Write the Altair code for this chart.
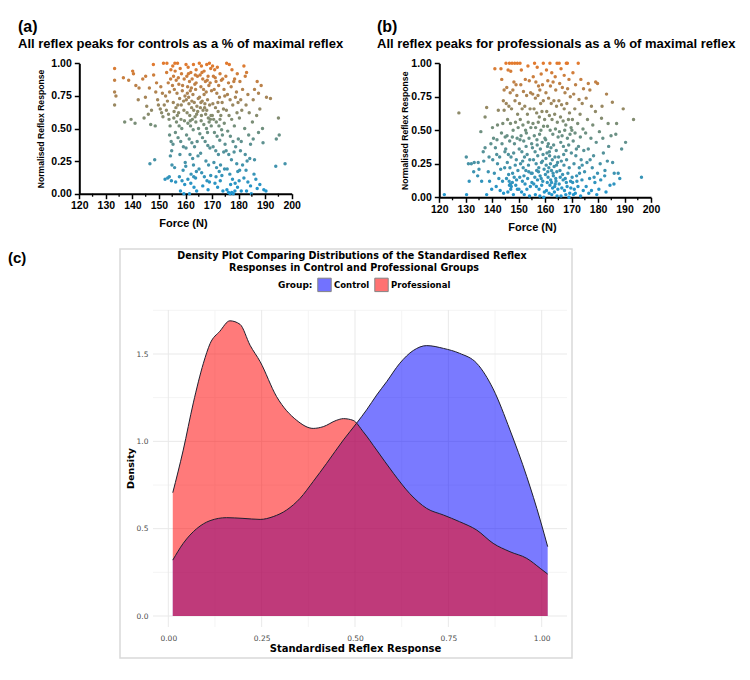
import altair as alt
import pandas as pd

# ---------------------------------------------------------------------------
# Data
# ---------------------------------------------------------------------------

# Controls: (force in N, normalised reflex response)
control_points = [
    (133.3, 0.96), (133.3, 0.87), (133.3, 0.78), (133.8, 0.75), (133.3, 0.68), (136.6, 0.89),
    (138.6, 0.87), (140.1, 0.94), (140.4, 0.92), (137.1, 0.55), (141.0, 0.54), (141.3, 0.83),
    (142.5, 0.81), (143.9, 0.88), (144.9, 0.74), (142.2, 0.72), (145.4, 0.67), (146.0, 0.61),
    (146.4, 0.81), (144.4, 0.58), (146.9, 0.53), (147.9, 0.99), (148.0, 0.91), (149.1, 0.85),
    (148.8, 0.78), (149.5, 0.72), (149.8, 0.68), (148.6, 0.52), (146.6, 0.23), (148.4, 0.26),
    (139.5, 0.57), (145.0, 0.90), (147.2, 0.64),
    (151.7, 1.00), (153.0, 1.00), (150.7, 0.82), (151.0, 0.62), (152.0, 0.68), (152.3, 0.11),
    (153.3, 0.12), (151.5, 0.59), (152.5, 0.75), (153.5, 0.85), (154.0, 0.78), (154.5, 0.95),
    (153.8, 0.57), (154.2, 0.52), (154.6, 0.40), (154.8, 0.33), (154.3, 0.29), (154.9, 0.22),
    (153.9, 0.13), (154.7, 0.10), (152.8, 0.64), (153.2, 0.71), (154.4, 0.88), (150.5, 0.65),
    (154.0, 0.45), (152.9, 0.93), (151.3, 0.77), (153.6, 0.61),
    (155.2, 0.98), (156.0, 1.00), (157.0, 1.00), (158.0, 0.96), (155.5, 0.90), (156.5, 0.87),
    (157.5, 0.84), (158.5, 0.92), (159.5, 0.88), (155.8, 0.80), (156.8, 0.77), (157.8, 0.73),
    (158.8, 0.79), (159.8, 0.75), (155.4, 0.70), (156.4, 0.66), (157.4, 0.62), (158.4, 0.68),
    (159.4, 0.64), (155.6, 0.58), (156.6, 0.55), (157.6, 0.52), (158.6, 0.50), (159.6, 0.56),
    (156.2, 0.47), (157.2, 0.43), (158.2, 0.40), (159.2, 0.36), (155.3, 0.38), (157.9, 0.30),
    (159.9, 0.24), (155.9, 0.20), (157.7, 0.13), (158.7, 0.10), (159.7, 0.07), (158.1, 0.02),
    (159.4, 0.00), (156.3, 0.09), (159.1, 0.18), (155.1, 0.83), (159.3, 0.71), (156.1, 0.94),
    (157.3, 0.89), (158.9, 0.83), (156.9, 0.60), (158.3, 0.57), (157.1, 0.68), (155.7, 0.63),
    (160.2, 0.99), (161.0, 0.97), (162.0, 0.93), (163.0, 0.99), (164.0, 0.95), (160.5, 0.90),
    (161.5, 0.86), (162.5, 0.88), (163.5, 0.84), (164.5, 0.90), (160.8, 0.82), (161.8, 0.79),
    (162.8, 0.76), (163.8, 0.80), (164.8, 0.73), (160.3, 0.72), (161.3, 0.69), (162.3, 0.66),
    (163.3, 0.70), (164.3, 0.67), (160.6, 0.62), (161.6, 0.60), (162.6, 0.57), (163.6, 0.59),
    (164.6, 0.63), (160.9, 0.54), (161.9, 0.52), (162.9, 0.49), (163.9, 0.55), (164.9, 0.50),
    (160.4, 0.45), (161.4, 0.42), (162.4, 0.39), (163.4, 0.36), (164.4, 0.40), (161.7, 0.30),
    (162.7, 0.27), (164.7, 0.29), (160.1, 0.21), (162.1, 0.15), (163.1, 0.13), (164.1, 0.17),
    (160.9, 0.11), (162.0, 0.08), (163.2, 0.05), (164.2, 0.02), (161.5, 0.00), (163.8, 0.12),
    (161.2, 0.74), (163.1, 0.64), (164.0, 0.85), (162.2, 0.81), (160.7, 0.77), (161.1, 0.92),
    (163.7, 0.91), (162.4, 0.71), (164.2, 0.61), (161.8, 0.56), (160.2, 0.35), (163.0, 0.22),
    (165.2, 1.00), (166.0, 0.98), (167.0, 0.94), (168.0, 0.99), (169.0, 1.00), (169.5, 0.96),
    (165.5, 0.91), (166.5, 0.88), (167.5, 0.86), (168.5, 0.90), (169.3, 0.85), (165.8, 0.82),
    (166.8, 0.80), (167.8, 0.78), (168.8, 0.83), (169.8, 0.79), (165.3, 0.74), (166.3, 0.71),
    (167.3, 0.69), (168.3, 0.72), (169.1, 0.68), (165.6, 0.66), (166.6, 0.64), (167.6, 0.61),
    (168.6, 0.58), (169.6, 0.60), (165.9, 0.56), (166.9, 0.53), (167.9, 0.50), (168.9, 0.55),
    (169.4, 0.57), (165.4, 0.46), (166.4, 0.43), (167.4, 0.40), (168.4, 0.37), (169.2, 0.35),
    (165.7, 0.31), (167.7, 0.25), (168.7, 0.22), (165.1, 0.19), (166.1, 0.16), (167.1, 0.13),
    (168.1, 0.10), (169.5, 0.14), (166.5, 0.06), (168.5, 0.03), (169.0, 0.09), (165.8, 0.70),
    (167.0, 0.76), (166.2, 0.93), (168.2, 0.87), (167.2, 0.66), (168.0, 0.64), (166.0, 0.60),
    (169.7, 0.52), (168.3, 0.47),
    (170.2, 0.98), (171.0, 0.95), (172.0, 0.97), (173.0, 0.92), (174.0, 0.88), (170.5, 0.90),
    (171.5, 0.86), (172.5, 0.83), (173.5, 0.87), (174.5, 0.80), (170.8, 0.80), (171.8, 0.77),
    (172.8, 0.74), (173.8, 0.70), (174.8, 0.75), (170.3, 0.69), (171.3, 0.66), (172.3, 0.63),
    (173.3, 0.60), (174.3, 0.65), (170.6, 0.57), (171.6, 0.55), (172.6, 0.52), (173.6, 0.49),
    (174.6, 0.54), (170.9, 0.47), (171.9, 0.44), (172.9, 0.41), (173.9, 0.45), (174.9, 0.38),
    (170.4, 0.36), (171.4, 0.33), (172.4, 0.30), (174.4, 0.32), (170.7, 0.24), (171.7, 0.20),
    (172.7, 0.17), (173.7, 0.14), (174.7, 0.19), (171.1, 0.08), (172.1, 0.05), (173.1, 0.10),
    (174.1, 0.02), (171.5, 0.13), (173.2, 0.22), (171.2, 0.89), (172.2, 0.70), (170.1, 0.60),
    (173.0, 0.57),
    (175.5, 1.00), (176.5, 0.99), (177.5, 0.95), (178.5, 0.88), (179.5, 0.92), (175.2, 0.90),
    (176.2, 0.85), (177.2, 0.82), (178.2, 0.86), (179.2, 0.78), (175.8, 0.76), (176.8, 0.72),
    (177.8, 0.68), (178.8, 0.74), (179.8, 0.70), (175.4, 0.64), (176.4, 0.60), (177.4, 0.57),
    (178.4, 0.52), (179.4, 0.62), (175.9, 0.48), (176.9, 0.44), (177.9, 0.40), (178.9, 0.36),
    (179.9, 0.42), (175.3, 0.33), (176.3, 0.30), (177.3, 0.26), (178.3, 0.32), (179.3, 0.23),
    (175.7, 0.19), (176.7, 0.15), (177.7, 0.11), (178.7, 0.08), (179.7, 0.17), (175.6, 0.03),
    (176.2, 0.01), (176.8, 0.00), (177.4, 0.01), (178.0, 0.00), (178.6, 0.02), (179.6, 0.05),
    (177.0, 0.07),
    (182.0, 0.98), (183.0, 0.93), (182.5, 0.90), (180.5, 0.86), (181.5, 0.80), (183.5, 0.76),
    (180.8, 0.72), (182.8, 0.68), (181.2, 0.64), (184.0, 0.62), (180.3, 0.58), (182.3, 0.50),
    (183.8, 0.45), (181.0, 0.40), (184.5, 0.38), (180.7, 0.33), (182.5, 0.30), (184.2, 0.27),
    (181.5, 0.22), (183.2, 0.25), (180.4, 0.18), (182.0, 0.12), (183.5, 0.09), (184.5, 0.06),
    (181.0, 0.02), (183.0, 0.02), (184.8, 0.00), (182.8, 0.18), (180.2, 0.10),
    (187.0, 0.86), (188.5, 0.83), (186.0, 0.80), (187.5, 0.77), (185.5, 0.72), (188.0, 0.65),
    (186.8, 0.60), (185.2, 0.55), (189.0, 0.50), (187.5, 0.47), (185.5, 0.42), (189.2, 0.39),
    (186.0, 0.26), (186.5, 0.11), (188.0, 0.07), (189.5, 0.03), (187.0, 0.04), (185.8, 0.15),
    (190.5, 0.74), (192.0, 0.73), (195.0, 0.58), (195.3, 0.45), (194.2, 0.42), (194.0, 0.21),
    (197.5, 0.23), (190.3, 0.02),
]

# Professionals: (force in N, normalised reflex response)
professional_points = [
    (121.9, 0.02), (127.4, 0.63), (130.2, 0.30), (131.3, 0.12), (132.1, 0.25), (133.2, 0.26),
    (134.7, 0.26), (133.0, 0.19), (130.3, 0.02), (136.0, 0.12), (135.7, 0.49), (137.3, 0.60),
    (137.9, 0.67), (136.6, 0.34), (137.3, 0.37), (138.5, 0.19), (137.9, 0.02), (139.8, 0.06),
    (134.5, 0.16), (136.8, 0.27), (138.8, 0.30), (139.0, 0.12), (131.0, 0.25), (135.0, 0.21),
    (139.5, 0.40),
    (140.1, 0.52), (141.0, 0.96), (143.3, 0.96), (142.3, 0.65), (141.7, 0.32), (142.5, 0.14),
    (140.5, 0.44), (141.2, 0.37), (142.0, 0.25), (143.0, 0.05), (143.5, 0.48), (144.0, 0.55),
    (144.5, 0.80), (144.2, 0.72), (143.7, 0.40), (142.8, 0.30), (144.7, 0.22), (141.5, 0.08),
    (140.8, 0.18), (143.9, 0.12), (144.5, 0.65), (142.0, 0.54), (144.8, 0.34), (143.2, 0.21),
    (144.3, 0.03), (140.2, 0.28), (141.8, 0.43), (143.6, 0.88), (144.9, 0.45),
    (145.2, 1.00), (146.5, 1.00), (147.5, 1.00), (148.5, 1.00), (149.5, 1.00), (146.0, 0.95),
    (147.0, 0.94), (148.2, 0.86), (149.0, 0.84), (145.5, 0.82), (146.8, 0.78), (147.8, 0.80),
    (149.3, 0.76), (145.3, 0.70), (146.3, 0.68), (147.3, 0.66), (148.6, 0.72), (149.6, 0.62),
    (145.8, 0.58), (146.9, 0.55), (147.9, 0.50), (148.8, 0.56), (149.8, 0.52), (145.6, 0.46),
    (146.6, 0.42), (147.6, 0.45), (148.4, 0.40), (149.4, 0.44), (145.1, 0.36), (146.1, 0.32),
    (147.1, 0.30), (148.1, 0.33), (149.1, 0.28), (145.7, 0.26), (146.7, 0.22), (147.7, 0.18),
    (148.7, 0.24), (149.7, 0.20), (145.4, 0.14), (146.4, 0.12), (146.9, 0.10), (147.2, 0.08),
    (147.0, 0.06), (146.5, 0.09), (147.6, 0.11), (148.3, 0.15), (149.2, 0.13), (145.9, 0.04),
    (148.0, 0.02), (149.5, 0.06), (148.9, 0.09), (146.2, 0.17),
    (150.5, 1.00), (153.5, 0.98), (151.0, 0.95), (152.5, 0.88), (154.0, 0.87), (150.8, 0.84),
    (151.8, 0.79), (153.0, 0.76), (154.5, 0.78), (150.3, 0.70), (151.3, 0.66), (152.3, 0.68),
    (153.3, 0.62), (154.3, 0.66), (150.6, 0.58), (151.6, 0.54), (152.6, 0.50), (153.6, 0.56),
    (154.6, 0.52), (150.9, 0.46), (151.9, 0.42), (152.9, 0.48), (153.9, 0.44), (154.9, 0.40),
    (150.2, 0.36), (151.2, 0.34), (152.2, 0.30), (153.2, 0.32), (154.2, 0.28), (150.7, 0.25),
    (151.7, 0.22), (152.7, 0.20), (153.7, 0.24), (154.7, 0.18), (150.4, 0.15), (151.4, 0.12),
    (152.4, 0.10), (153.4, 0.14), (154.4, 0.08), (150.1, 0.06), (151.1, 0.04), (152.1, 0.02),
    (153.1, 0.06), (154.1, 0.01), (155.0, 0.11), (152.0, 0.16), (153.8, 0.19), (151.5, 0.27),
    (152.8, 0.38), (150.5, 0.43),
    (156.0, 1.00), (159.3, 1.00), (157.0, 0.97), (158.5, 0.92), (155.5, 0.90), (156.5, 0.86),
    (157.5, 0.83), (158.0, 0.80), (159.0, 0.84), (155.3, 0.77), (156.3, 0.74), (157.3, 0.76),
    (158.3, 0.70), (159.3, 0.72), (155.8, 0.66), (156.8, 0.63), (157.8, 0.60), (158.8, 0.64),
    (159.8, 0.58), (155.4, 0.55), (156.4, 0.52), (157.4, 0.56), (158.4, 0.50), (159.4, 0.53),
    (155.9, 0.46), (156.9, 0.43), (157.9, 0.47), (158.9, 0.41), (159.9, 0.44), (155.2, 0.37),
    (156.2, 0.34), (157.2, 0.31), (158.2, 0.36), (159.2, 0.32), (155.6, 0.28), (156.6, 0.25),
    (157.6, 0.22), (158.6, 0.26), (159.6, 0.21), (155.1, 0.18), (156.1, 0.15), (157.1, 0.13),
    (158.1, 0.16), (159.1, 0.12), (155.7, 0.10), (156.7, 0.08), (157.7, 0.06), (158.7, 0.09),
    (159.7, 0.04), (156.3, 0.02), (158.0, 0.01), (159.5, 0.00), (157.5, 0.19), (158.5, 0.14),
    (156.8, 0.20), (159.0, 0.27), (157.0, 0.39),
    (161.8, 1.00), (164.5, 1.00), (160.5, 0.95), (162.5, 0.93), (163.8, 0.90), (161.0, 0.87),
    (162.0, 0.83), (163.0, 0.86), (164.0, 0.80), (160.3, 0.78), (161.3, 0.74), (162.3, 0.70),
    (163.3, 0.72), (164.3, 0.68), (160.6, 0.64), (161.6, 0.61), (162.6, 0.58), (163.6, 0.62),
    (164.6, 0.56), (160.9, 0.53), (161.9, 0.50), (162.9, 0.47), (163.9, 0.51), (164.9, 0.45),
    (160.2, 0.43), (161.2, 0.40), (162.2, 0.37), (163.2, 0.39), (164.2, 0.35), (160.7, 0.33),
    (161.7, 0.31), (162.7, 0.28), (163.7, 0.30), (164.7, 0.26), (160.4, 0.24), (161.4, 0.22),
    (162.4, 0.20), (163.4, 0.23), (164.4, 0.19), (160.1, 0.17), (161.1, 0.15), (162.1, 0.13),
    (163.1, 0.16), (164.1, 0.12), (160.8, 0.11), (161.8, 0.09), (162.8, 0.07), (163.8, 0.10),
    (164.8, 0.06), (160.5, 0.05), (161.5, 0.03), (162.5, 0.02), (163.5, 0.04), (164.5, 0.01),
    (161.0, 0.19), (162.0, 0.25), (163.0, 0.18), (164.0, 0.14), (160.3, 0.29), (161.6, 0.34),
    (162.4, 0.11), (163.6, 0.08), (164.3, 0.24), (160.9, 0.38),
    (165.3, 1.00), (168.0, 1.00), (168.4, 1.00), (166.0, 0.96), (167.2, 0.91), (169.0, 0.88),
    (165.5, 0.85), (166.5, 0.82), (167.5, 0.78), (168.5, 0.81), (169.5, 0.75), (165.2, 0.72),
    (166.2, 0.69), (167.2, 0.66), (168.2, 0.70), (169.2, 0.63), (165.8, 0.60), (166.8, 0.57),
    (167.8, 0.54), (168.8, 0.58), (169.8, 0.52), (165.4, 0.49), (166.4, 0.46), (167.4, 0.50),
    (168.4, 0.44), (169.4, 0.47), (165.9, 0.41), (166.9, 0.38), (167.9, 0.35), (168.9, 0.39),
    (169.9, 0.33), (165.1, 0.30), (166.1, 0.27), (167.1, 0.24), (168.1, 0.28), (169.1, 0.22),
    (165.6, 0.20), (166.6, 0.17), (167.6, 0.14), (168.6, 0.18), (169.6, 0.12), (165.3, 0.10),
    (166.3, 0.07), (167.3, 0.05), (168.3, 0.08), (169.3, 0.03), (166.0, 0.01), (167.8, 0.02),
    (169.0, 0.00), (166.8, 0.13), (168.0, 0.11), (169.7, 0.07), (165.7, 0.15), (167.0, 0.32),
    (172.5, 1.00), (170.5, 0.93), (173.5, 0.88), (171.5, 0.84), (174.5, 0.81), (170.8, 0.77),
    (172.8, 0.73), (174.0, 0.70), (171.2, 0.66), (173.2, 0.62), (170.3, 0.58), (172.3, 0.55),
    (174.3, 0.51), (171.3, 0.48), (173.3, 0.45), (170.6, 0.42), (172.6, 0.38), (174.6, 0.35),
    (171.6, 0.31), (173.6, 0.28), (170.9, 0.25), (172.9, 0.22), (174.9, 0.19), (171.9, 0.16),
    (173.9, 0.13), (170.4, 0.11), (172.4, 0.08), (174.4, 0.05), (171.4, 0.03), (173.4, 0.01),
    (170.2, 0.15), (171.0, 0.06), (170.7, 0.02), (172.0, 0.12), (173.0, 0.18), (174.0, 0.24),
    (171.8, 0.36), (170.1, 0.50),
    (176.3, 0.85), (176.9, 0.80), (179.1, 0.86), (179.8, 0.85), (175.5, 0.74), (177.5, 0.68),
    (179.0, 0.64), (176.0, 0.58), (178.0, 0.54), (175.3, 0.48), (177.3, 0.44), (179.3, 0.41),
    (176.3, 0.36), (178.3, 0.31), (175.8, 0.26), (177.8, 0.22), (179.8, 0.18), (176.8, 0.14),
    (178.8, 0.11), (175.5, 0.08), (177.5, 0.05), (179.5, 0.02), (176.5, 0.03), (178.5, 0.15),
    (177.0, 0.28),
    (183.2, 0.77), (181.3, 0.59), (183.8, 0.55), (182.0, 0.33), (182.6, 0.20), (180.5, 0.49),
    (181.8, 0.44), (184.0, 0.38), (180.8, 0.25), (183.5, 0.27), (181.0, 0.13), (184.5, 0.09),
    (180.3, 0.06), (182.5, 0.16), (183.0, 0.04), (181.5, 0.68),
    (185.4, 0.71), (184.9, 0.46), (186.7, 0.47), (186.1, 0.18), (186.0, 0.10), (189.5, 0.66),
    (188.9, 0.36), (187.6, 0.18), (188.2, 0.14), (185.5, 0.26), (187.0, 0.55),
    (196.4, 0.15), (193.4, 0.58), (190.4, 0.41),
]

force_ticks = [120, 130, 140, 150, 160, 170, 180, 190, 200]
force_minor_ticks = [125, 135, 145, 155, 165, 175, 185, 195]
response_ticks = [0.0, 0.25, 0.5, 0.75, 1.0]

# Kernel density curves of the standardised reflex response
dens_x_control = [0.012, 0.04, 0.076, 0.112, 0.156, 0.2, 0.246, 0.281, 0.317, 0.353, 0.388,
                  0.424, 0.469, 0.504, 0.531, 0.558, 0.585, 0.62, 0.656, 0.692, 0.737, 0.78,
                  0.826, 0.87, 0.915, 0.96, 0.996, 1.016]
dens_control = [0.32, 0.416, 0.50, 0.546, 0.563, 0.559, 0.553, 0.569, 0.607, 0.674, 0.77,
                0.874, 1.008, 1.103, 1.18, 1.265, 1.342, 1.447, 1.52, 1.548, 1.532, 1.504,
                1.447, 1.30, 1.065, 0.798, 0.55, 0.397]
dens_x_professional = [0.012, 0.04, 0.067, 0.094, 0.112, 0.138, 0.165, 0.192, 0.219, 0.246,
                       0.29, 0.344, 0.388, 0.415, 0.45, 0.469, 0.495, 0.522, 0.558, 0.603,
                       0.647, 0.692, 0.737, 0.78, 0.826, 0.87, 0.915, 0.96, 0.996, 1.016]
dens_professional = [0.706, 0.95, 1.22, 1.447, 1.56, 1.63, 1.69, 1.67, 1.55, 1.456,
                     1.256, 1.12, 1.074, 1.084, 1.12, 1.13, 1.12, 1.055, 0.95, 0.817,
                     0.70, 0.616, 0.578, 0.54, 0.492, 0.416, 0.368, 0.33, 0.273, 0.24]

dens_x_ticks = [0.0, 0.25, 0.5, 0.75, 1.0]
dens_x_minor = [0.125, 0.375, 0.625, 0.875]
dens_y_ticks = [0.0, 0.5, 1.0, 1.5]
dens_y_minor = [0.25, 0.75, 1.25, 1.75]

groups = ["Control", "Professional"]
group_colors = ["#0000FF", "#FF0000"]

# ---------------------------------------------------------------------------
# Styling helpers
# ---------------------------------------------------------------------------
W, H = 750, 680
SANS = "Liberation Sans"
VERD = "DejaVu Sans"

resp_colors = alt.Scale(domain=[0, 0.5, 1], range=["#1E95D0", "#70907E", "#E27A2E"],
                        interpolate="rgb")


def text_layer(txt, x, y, size, font=SANS, weight="bold", align="left", color="black"):
    return alt.Chart(alt.Data(values=[{}])).mark_text(
        text=txt, font=font, fontSize=size, fontWeight=weight, align=align,
        baseline="middle", color=color,
    ).encode(x=alt.value(x), y=alt.value(y))


def scatter_panel(points, x_px, y_px, x_title_x, y_title_x):
    df = pd.DataFrame(points, columns=["force", "response"])
    xs = alt.Scale(domain=[120, 200], range=list(x_px), nice=False, zero=False)
    ys = alt.Scale(domain=[0, 1], range=list(y_px), nice=False, zero=False)
    x_axis = alt.Axis(
        orient="bottom", offset=y_px[0] - H, values=force_ticks, grid=False,
        domainColor="black", domainWidth=2, tickColor="black", tickWidth=1.5, tickSize=5,
        labelFont=SANS, labelFontSize=10.5, labelFontWeight="bold", labelColor="black",
        labelPadding=2, labelFlush=False, labelOverlap=False,
        title="Force (N)", titleFont=SANS, titleFontSize=11, titleFontWeight="bold",
        titleColor="black", titleX=x_title_x, titleY=30, titleBaseline="middle",
        titleAlign="center",
    )
    y_axis = alt.Axis(
        orient="left", offset=-x_px[0], values=response_ticks, format=".2f", grid=False,
        domainColor="black", domainWidth=2, tickColor="black", tickWidth=1.5, tickSize=5,
        labelFont=SANS, labelFontSize=10.5, labelFontWeight="bold", labelColor="black",
        labelPadding=3, labelOverlap=False,
        title="Normalised Reflex Response", titleFont=SANS, titleFontSize=8.6,
        titleFontWeight="bold", titleColor="black", titleX=y_title_x,
        titleY=(y_px[0] + y_px[1]) / 2, titleBaseline="middle", titleAlign="center",
        titleAngle=270,
    )
    dots = alt.Chart(df).mark_circle(size=12, opacity=1).encode(
        x=alt.X("force:Q", scale=xs, axis=x_axis),
        y=alt.Y("response:Q", scale=ys, axis=y_axis),
        color=alt.Color("response:Q", scale=resp_colors, legend=None),
    )
    # half-step ticks along the force axis
    minor = alt.Chart(pd.DataFrame({"force": force_minor_ticks})).mark_rule(
        color="black", strokeWidth=1.3
    ).encode(
        x=alt.X("force:Q", scale=xs, axis=x_axis),
        y=alt.value(y_px[0]), y2=alt.value(y_px[0] + 3),
    )
    return alt.layer(dots, minor)


panel_a = scatter_panel(control_points, (79.3, 291.7), (193.7, 63.3), 183, -39)
panel_b = scatter_panel(professional_points, (439.3, 651.0), (197.3, 63.3), 532, -35)

# ---------------------------------------------------------------------------
# Density panel
# ---------------------------------------------------------------------------
dens_df = pd.DataFrame({
    "value": dens_x_control + dens_x_professional,
    "density": dens_control + dens_professional,
    "Group": [groups[0]] * len(dens_x_control) + [groups[1]] * len(dens_x_professional),
})

PX0, PX1, PY0, PY1 = 153, 567, 310, 627     # panel background extent
dxs = alt.Scale(domain=[0, 1], range=[168.3, 541.7], nice=False, zero=False)
dys = alt.Scale(domain=[0, 1.5], range=[616, 354], nice=False, zero=False)
fill_scale = alt.Scale(domain=groups, range=group_colors)

dx_axis = alt.Axis(
    orient="bottom", offset=PY1 - H, values=dens_x_ticks, format=".2f", grid=False,
    domain=False, ticks=False, tickSize=0, labelFont=VERD, labelFontSize=7.5,
    labelColor="#4D4D4D", labelPadding=7, labelFlush=False, labelOverlap=False,
    title="Standardised Reflex Response", titleFont=VERD, titleFontSize=10,
    titleFontWeight="bold", titleColor="black", titleY=21, titleBaseline="middle",
)
dy_axis = alt.Axis(
    orient="left", offset=-PX0, values=dens_y_ticks, format=".1f", grid=False,
    domain=False, ticks=False, tickSize=0, labelFont=VERD, labelFontSize=7.5,
    labelColor="#4D4D4D", labelPadding=5, labelOverlap=False,
    title="Density", titleFont=VERD, titleFontSize=9.5, titleFontWeight="bold",
    titleColor="black", titleX=-23, titleY=468, titleBaseline="middle",
    titleAlign="center", titleAngle=270,
)

dens_x = alt.X("value:Q", scale=dxs, axis=dx_axis)
dens_y = alt.Y("density:Q", scale=dys, axis=dy_axis, stack=None)


def vgrid(vals, color):
    return alt.Chart(pd.DataFrame({"value": vals})).mark_rule(color=color, strokeWidth=1).encode(
        x=dens_x, y=alt.value(PY0), y2=alt.value(PY1))


def hgrid(vals, color):
    return alt.Chart(pd.DataFrame({"density": vals})).mark_rule(color=color, strokeWidth=1).encode(
        y=dens_y, x=alt.value(PX0), x2=alt.value(PX1))


group_legend = alt.Legend(
    orient="none", legendX=278, legendY=277, direction="horizontal",
    title="Group:", titleOrient="left", titleFont=VERD, titleFontSize=9,
    titleFontWeight="bold", titleColor="black", titlePadding=4,
    labelFont=VERD, labelFontSize=8.5, labelFontWeight="bold", labelColor="black",
    labelOffset=2, columnPadding=2, symbolType="square", symbolSize=180,
    symbolOpacity=0.55, symbolStrokeColor="#222222", symbolStrokeWidth=1,
)


def density_area(group):
    return alt.Chart(dens_df).transform_filter(alt.datum.Group == group).mark_area(
        interpolate="monotone", fillOpacity=0.52
    ).encode(
        x=dens_x, y=dens_y,
        fill=alt.Fill("Group:N", scale=fill_scale, legend=group_legend),
    )


density_lines = alt.Chart(dens_df).mark_line(
    interpolate="monotone", color="#1f1f2e", strokeWidth=1
).encode(x=dens_x, y=dens_y, detail="Group:N")

panel_c = alt.layer(
    vgrid(dens_x_minor, "#F4F4F4"), hgrid(dens_y_minor, "#F4F4F4"),
    vgrid(dens_x_ticks, "#E9E9E9"), hgrid(dens_y_ticks, "#E9E9E9"),
    density_area(groups[0]), density_area(groups[1]),
    density_lines,
)

frame_c = alt.Chart(alt.Data(values=[{}])).mark_rect(
    fillOpacity=0, stroke="#D9D9D9", strokeWidth=1.5
).encode(x=alt.value(120), x2=alt.value(572), y=alt.value(249), y2=alt.value(658))

texts = [
    text_layer("(a)", 18, 26.5, 16),
    text_layer("All reflex peaks for controls as a % of maximal reflex", 18, 44, 13),
    text_layer("(b)", 377, 26.5, 16),
    text_layer("All reflex peaks for professionals as a % of maximal reflex", 377, 44, 13),
    text_layer("(c)", 8, 258, 15),
    text_layer("Density Plot Comparing Distributions of the Standardised Reflex", 352, 256,
               9.6, font=VERD, align="center"),
    text_layer("Responses in Control and Professional Groups", 354, 268, 9.6, font=VERD,
               align="center"),
]

chart = alt.layer(frame_c, panel_a, panel_b, panel_c, *texts).resolve_scale(
    x="independent", y="independent"
).properties(
    width=W, height=H, padding=0, autosize=alt.AutoSizeParams(type="none"),
    background="white",
).configure_view(stroke=None)

chart.save("out.html", embed_options={"renderer": "svg", "actions": False})
